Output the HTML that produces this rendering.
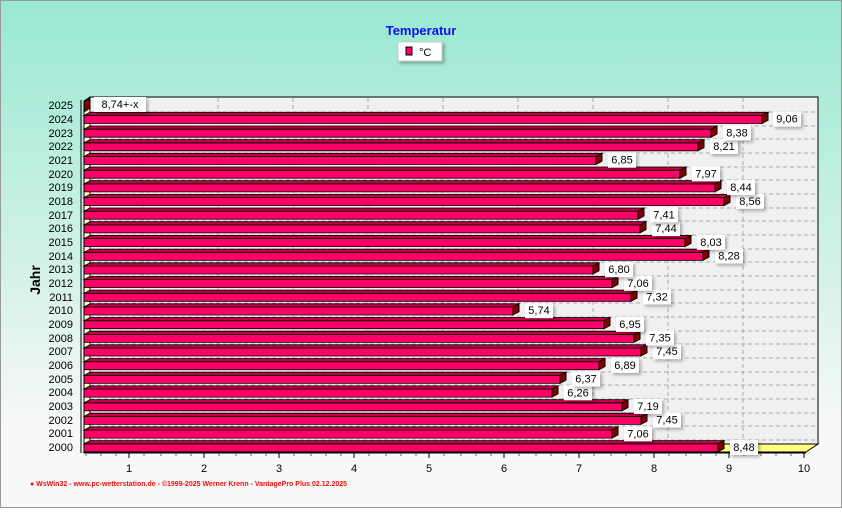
<!DOCTYPE html>
<html><head><meta charset="utf-8"><style>
html,body{margin:0;padding:0}
body{width:842px;height:508px;overflow:hidden}
svg text{font-family:"Liberation Sans",sans-serif;font-size:11px;fill:#000}
.f{fill:#ff0066;stroke:#000;stroke-width:1}
.t{fill:#c00040;stroke:#000;stroke-width:1}
.s{fill:#800000;stroke:#000;stroke-width:1}
.lb{fill:#fff;filter:drop-shadow(2px 2px 1.5px rgba(0,0,0,0.3))}
.sh{display:none}
.yl{text-anchor:end}
.g{stroke:#aaa;stroke-dasharray:4,3;stroke-width:1}
</style></head><body>
<svg width="842" height="508" viewBox="0 0 842 508" xmlns="http://www.w3.org/2000/svg">
<defs><linearGradient id="bg" x1="0" y1="0" x2="0" y2="1">
<stop offset="0" stop-color="#98e8d2"/><stop offset="0.55" stop-color="#d6f2e8"/><stop offset="0.85" stop-color="#f8f8f8"/><stop offset="1" stop-color="#f8f8f8"/></linearGradient></defs>
<rect x="0" y="0" width="842" height="508" fill="url(#bg)"/>
<rect x="0.5" y="0.5" width="841" height="507" fill="none" stroke="#999"/>
<text x="421" y="35" text-anchor="middle" style="font-size:13px;font-weight:bold;fill:#1010ee">Temperatur</text>
<rect x="398" y="42" width="44" height="19" fill="#fff" stroke="#ccc" style="filter:drop-shadow(2px 2px 1.5px rgba(0,0,0,0.3))"/>
<rect x="406" y="47" width="6" height="8" fill="#ff0066" stroke="#000"/>
<text x="419" y="56">°C</text>
<text transform="translate(40,280) rotate(-90)" text-anchor="middle" style="font-size:14px;font-weight:bold">Jahr</text>
<rect x="90" y="97" width="728" height="347" fill="#f0f0f0" stroke="#000"/>
<polygon points="84,101 90,97 90,444 84,452" fill="#ffffe0" stroke="#000"/>
<polygon points="84,452 806,452 818,444 90,444" fill="#ffff80" stroke="#000"/>
<g class="g">
<line x1="143" y1="98" x2="143" y2="444"/><line x1="218" y1="98" x2="218" y2="444"/><line x1="293" y1="98" x2="293" y2="444"/><line x1="368" y1="98" x2="368" y2="444"/><line x1="443" y1="98" x2="443" y2="444"/><line x1="518" y1="98" x2="518" y2="444"/><line x1="593" y1="98" x2="593" y2="444"/><line x1="668" y1="98" x2="668" y2="444"/><line x1="743" y1="98" x2="743" y2="444"/>
<line x1="90" y1="112" x2="818" y2="112"/><line x1="90" y1="126" x2="818" y2="126"/><line x1="90" y1="139" x2="818" y2="139"/><line x1="90" y1="153" x2="818" y2="153"/><line x1="90" y1="167" x2="818" y2="167"/><line x1="90" y1="180" x2="818" y2="180"/><line x1="90" y1="194" x2="818" y2="194"/><line x1="90" y1="208" x2="818" y2="208"/><line x1="90" y1="221" x2="818" y2="221"/><line x1="90" y1="235" x2="818" y2="235"/><line x1="90" y1="249" x2="818" y2="249"/><line x1="90" y1="262" x2="818" y2="262"/><line x1="90" y1="276" x2="818" y2="276"/><line x1="90" y1="290" x2="818" y2="290"/><line x1="90" y1="303" x2="818" y2="303"/><line x1="90" y1="317" x2="818" y2="317"/><line x1="90" y1="331" x2="818" y2="331"/><line x1="90" y1="344" x2="818" y2="344"/><line x1="90" y1="358" x2="818" y2="358"/><line x1="90" y1="372" x2="818" y2="372"/><line x1="90" y1="385" x2="818" y2="385"/><line x1="90" y1="399" x2="818" y2="399"/><line x1="90" y1="413" x2="818" y2="413"/><line x1="90" y1="426" x2="818" y2="426"/><line x1="90" y1="440" x2="818" y2="440"/>
</g>
<g stroke="#000">
<line x1="84" y1="453" x2="806" y2="453"/>
<line x1="129" y1="453" x2="129" y2="458"/><line x1="204" y1="453" x2="204" y2="458"/><line x1="279" y1="453" x2="279" y2="458"/><line x1="354" y1="453" x2="354" y2="458"/><line x1="429" y1="453" x2="429" y2="458"/><line x1="504" y1="453" x2="504" y2="458"/><line x1="579" y1="453" x2="579" y2="458"/><line x1="654" y1="453" x2="654" y2="458"/><line x1="729" y1="453" x2="729" y2="458"/><line x1="804" y1="453" x2="804" y2="458"/>
</g>
<g stroke="#666">
<line x1="86" y1="453" x2="86" y2="456"/><line x1="101" y1="453" x2="101" y2="456"/><line x1="116" y1="453" x2="116" y2="456"/><line x1="144" y1="453" x2="144" y2="456"/><line x1="161" y1="453" x2="161" y2="456"/><line x1="176" y1="453" x2="176" y2="456"/><line x1="191" y1="453" x2="191" y2="456"/><line x1="219" y1="453" x2="219" y2="456"/><line x1="236" y1="453" x2="236" y2="456"/><line x1="251" y1="453" x2="251" y2="456"/><line x1="266" y1="453" x2="266" y2="456"/><line x1="294" y1="453" x2="294" y2="456"/><line x1="311" y1="453" x2="311" y2="456"/><line x1="326" y1="453" x2="326" y2="456"/><line x1="341" y1="453" x2="341" y2="456"/><line x1="369" y1="453" x2="369" y2="456"/><line x1="386" y1="453" x2="386" y2="456"/><line x1="401" y1="453" x2="401" y2="456"/><line x1="416" y1="453" x2="416" y2="456"/><line x1="444" y1="453" x2="444" y2="456"/><line x1="461" y1="453" x2="461" y2="456"/><line x1="476" y1="453" x2="476" y2="456"/><line x1="491" y1="453" x2="491" y2="456"/><line x1="519" y1="453" x2="519" y2="456"/><line x1="536" y1="453" x2="536" y2="456"/><line x1="551" y1="453" x2="551" y2="456"/><line x1="566" y1="453" x2="566" y2="456"/><line x1="594" y1="453" x2="594" y2="456"/><line x1="611" y1="453" x2="611" y2="456"/><line x1="626" y1="453" x2="626" y2="456"/><line x1="641" y1="453" x2="641" y2="456"/><line x1="669" y1="453" x2="669" y2="456"/><line x1="686" y1="453" x2="686" y2="456"/><line x1="701" y1="453" x2="701" y2="456"/><line x1="716" y1="453" x2="716" y2="456"/><line x1="744" y1="453" x2="744" y2="456"/><line x1="761" y1="453" x2="761" y2="456"/><line x1="776" y1="453" x2="776" y2="456"/><line x1="791" y1="453" x2="791" y2="456"/>
</g>
<g text-anchor="middle">
<text x="129" y="472">1</text><text x="204" y="472">2</text><text x="279" y="472">3</text><text x="354" y="472">4</text><text x="429" y="472">5</text><text x="504" y="472">6</text><text x="579" y="472">7</text><text x="654" y="472">8</text><text x="729" y="472">9</text><text x="804" y="472">10</text>
</g>
<line x1="81" y1="100" x2="81" y2="453" stroke="#000"/>
<g class="yl">
<text x="73" y="451">2000</text><text x="73" y="437">2001</text><text x="73" y="424">2002</text><text x="73" y="410">2003</text><text x="73" y="396">2004</text><text x="73" y="383">2005</text><text x="73" y="369">2006</text><text x="73" y="355">2007</text><text x="73" y="342">2008</text><text x="73" y="328">2009</text><text x="73" y="314">2010</text><text x="73" y="301">2011</text><text x="73" y="287">2012</text><text x="73" y="273">2013</text><text x="73" y="260">2014</text><text x="73" y="246">2015</text><text x="73" y="232">2016</text><text x="73" y="219">2017</text><text x="73" y="205">2018</text><text x="73" y="191">2019</text><text x="73" y="178">2020</text><text x="73" y="164">2021</text><text x="73" y="150">2022</text><text x="73" y="137">2023</text><text x="73" y="123">2024</text><text x="73" y="109">2025</text>
</g>
<g>
<g transform="translate(0,105)"><path class="s" d="M84,-3L90,-7V3L84,7Z"/></g>
<g transform="translate(0,119.5) scale(1,0.8)"><path class="f" d="M84,-5H762V5H84Z"/><path class="t" d="M84,-5L90,-9H768L762,-5Z"/><path class="s" d="M762,-5L768,-9V1L762,5Z"/></g>
<g transform="translate(0,133.2) scale(1,0.8)"><path class="f" d="M84,-5H711V5H84Z"/><path class="t" d="M84,-5L90,-9H717L711,-5Z"/><path class="s" d="M711,-5L717,-9V1L711,5Z"/></g>
<g transform="translate(0,146.8) scale(1,0.8)"><path class="f" d="M84,-5H698V5H84Z"/><path class="t" d="M84,-5L90,-9H704L698,-5Z"/><path class="s" d="M698,-5L704,-9V1L698,5Z"/></g>
<g transform="translate(0,160.5) scale(1,0.8)"><path class="f" d="M84,-5H596V5H84Z"/><path class="t" d="M84,-5L90,-9H602L596,-5Z"/><path class="s" d="M596,-5L602,-9V1L596,5Z"/></g>
<g transform="translate(0,174.2) scale(1,0.8)"><path class="f" d="M84,-5H680V5H84Z"/><path class="t" d="M84,-5L90,-9H686L680,-5Z"/><path class="s" d="M680,-5L686,-9V1L680,5Z"/></g>
<g transform="translate(0,187.9) scale(1,0.8)"><path class="f" d="M84,-5H715V5H84Z"/><path class="t" d="M84,-5L90,-9H721L715,-5Z"/><path class="s" d="M715,-5L721,-9V1L715,5Z"/></g>
<g transform="translate(0,201.6) scale(1,0.8)"><path class="f" d="M84,-5H724V5H84Z"/><path class="t" d="M84,-5L90,-9H730L724,-5Z"/><path class="s" d="M724,-5L730,-9V1L724,5Z"/></g>
<g transform="translate(0,215.2) scale(1,0.8)"><path class="f" d="M84,-5H638V5H84Z"/><path class="t" d="M84,-5L90,-9H644L638,-5Z"/><path class="s" d="M638,-5L644,-9V1L638,5Z"/></g>
<g transform="translate(0,228.9) scale(1,0.8)"><path class="f" d="M84,-5H640V5H84Z"/><path class="t" d="M84,-5L90,-9H646L640,-5Z"/><path class="s" d="M640,-5L646,-9V1L640,5Z"/></g>
<g transform="translate(0,242.6) scale(1,0.8)"><path class="f" d="M84,-5H685V5H84Z"/><path class="t" d="M84,-5L90,-9H691L685,-5Z"/><path class="s" d="M685,-5L691,-9V1L685,5Z"/></g>
<g transform="translate(0,256.3) scale(1,0.8)"><path class="f" d="M84,-5H703V5H84Z"/><path class="t" d="M84,-5L90,-9H709L703,-5Z"/><path class="s" d="M703,-5L709,-9V1L703,5Z"/></g>
<g transform="translate(0,270) scale(1,0.8)"><path class="f" d="M84,-5H593V5H84Z"/><path class="t" d="M84,-5L90,-9H599L593,-5Z"/><path class="s" d="M593,-5L599,-9V1L593,5Z"/></g>
<g transform="translate(0,283.6) scale(1,0.8)"><path class="f" d="M84,-5H612V5H84Z"/><path class="t" d="M84,-5L90,-9H618L612,-5Z"/><path class="s" d="M612,-5L618,-9V1L612,5Z"/></g>
<g transform="translate(0,297.3) scale(1,0.8)"><path class="f" d="M84,-5H631V5H84Z"/><path class="t" d="M84,-5L90,-9H637L631,-5Z"/><path class="s" d="M631,-5L637,-9V1L631,5Z"/></g>
<g transform="translate(0,311) scale(1,0.8)"><path class="f" d="M84,-5H513V5H84Z"/><path class="t" d="M84,-5L90,-9H519L513,-5Z"/><path class="s" d="M513,-5L519,-9V1L513,5Z"/></g>
<g transform="translate(0,324.7) scale(1,0.8)"><path class="f" d="M84,-5H604V5H84Z"/><path class="t" d="M84,-5L90,-9H610L604,-5Z"/><path class="s" d="M604,-5L610,-9V1L604,5Z"/></g>
<g transform="translate(0,338.4) scale(1,0.8)"><path class="f" d="M84,-5H634V5H84Z"/><path class="t" d="M84,-5L90,-9H640L634,-5Z"/><path class="s" d="M634,-5L640,-9V1L634,5Z"/></g>
<g transform="translate(0,352) scale(1,0.8)"><path class="f" d="M84,-5H641V5H84Z"/><path class="t" d="M84,-5L90,-9H647L641,-5Z"/><path class="s" d="M641,-5L647,-9V1L641,5Z"/></g>
<g transform="translate(0,365.7) scale(1,0.8)"><path class="f" d="M84,-5H599V5H84Z"/><path class="t" d="M84,-5L90,-9H605L599,-5Z"/><path class="s" d="M599,-5L605,-9V1L599,5Z"/></g>
<g transform="translate(0,379.4) scale(1,0.8)"><path class="f" d="M84,-5H560V5H84Z"/><path class="t" d="M84,-5L90,-9H566L560,-5Z"/><path class="s" d="M560,-5L566,-9V1L560,5Z"/></g>
<g transform="translate(0,393.1) scale(1,0.8)"><path class="f" d="M84,-5H552V5H84Z"/><path class="t" d="M84,-5L90,-9H558L552,-5Z"/><path class="s" d="M552,-5L558,-9V1L552,5Z"/></g>
<g transform="translate(0,406.8) scale(1,0.8)"><path class="f" d="M84,-5H622V5H84Z"/><path class="t" d="M84,-5L90,-9H628L622,-5Z"/><path class="s" d="M622,-5L628,-9V1L622,5Z"/></g>
<g transform="translate(0,420.4) scale(1,0.8)"><path class="f" d="M84,-5H641V5H84Z"/><path class="t" d="M84,-5L90,-9H647L641,-5Z"/><path class="s" d="M641,-5L647,-9V1L641,5Z"/></g>
<g transform="translate(0,434.1) scale(1,0.8)"><path class="f" d="M84,-5H612V5H84Z"/><path class="t" d="M84,-5L90,-9H618L612,-5Z"/><path class="s" d="M612,-5L618,-9V1L612,5Z"/></g>
<g transform="translate(0,447.8) scale(1,0.8)"><path class="f" d="M84,-5H718V5H84Z"/><path class="t" d="M84,-5L90,-9H724L718,-5Z"/><path class="s" d="M718,-5L724,-9V1L718,5Z"/></g>
</g>
<g text-anchor="middle">
<g transform="translate(0,447)"><rect class="lb" x="730" y="-7" width="28" height="15"/><text x="744" y="4">8,48</text></g>
<g transform="translate(0,433.3)"><rect class="lb" x="624" y="-7" width="28" height="15"/><text x="638" y="4">7,06</text></g>
<g transform="translate(0,419.6)"><rect class="lb" x="653" y="-7" width="28" height="15"/><text x="667" y="4">7,45</text></g>
<g transform="translate(0,406)"><rect class="lb" x="634" y="-7" width="28" height="15"/><text x="648" y="4">7,19</text></g>
<g transform="translate(0,392.3)"><rect class="lb" x="564" y="-7" width="28" height="15"/><text x="578" y="4">6,26</text></g>
<g transform="translate(0,378.6)"><rect class="lb" x="572" y="-7" width="28" height="15"/><text x="586" y="4">6,37</text></g>
<g transform="translate(0,364.9)"><rect class="lb" x="611" y="-7" width="28" height="15"/><text x="625" y="4">6,89</text></g>
<g transform="translate(0,351.2)"><rect class="lb" x="653" y="-7" width="28" height="15"/><text x="667" y="4">7,45</text></g>
<g transform="translate(0,337.6)"><rect class="lb" x="646" y="-7" width="28" height="15"/><text x="660" y="4">7,35</text></g>
<g transform="translate(0,323.9)"><rect class="lb" x="616" y="-7" width="28" height="15"/><text x="630" y="4">6,95</text></g>
<g transform="translate(0,310.2)"><rect class="lb" x="525" y="-7" width="28" height="15"/><text x="539" y="4">5,74</text></g>
<g transform="translate(0,296.5)"><rect class="lb" x="643" y="-7" width="28" height="15"/><text x="657" y="4">7,32</text></g>
<g transform="translate(0,282.8)"><rect class="lb" x="624" y="-7" width="28" height="15"/><text x="638" y="4">7,06</text></g>
<g transform="translate(0,269.2)"><rect class="lb" x="605" y="-7" width="28" height="15"/><text x="619" y="4">6,80</text></g>
<g transform="translate(0,255.5)"><rect class="lb" x="715" y="-7" width="28" height="15"/><text x="729" y="4">8,28</text></g>
<g transform="translate(0,241.8)"><rect class="lb" x="697" y="-7" width="28" height="15"/><text x="711" y="4">8,03</text></g>
<g transform="translate(0,228.1)"><rect class="lb" x="652" y="-7" width="28" height="15"/><text x="666" y="4">7,44</text></g>
<g transform="translate(0,214.4)"><rect class="lb" x="650" y="-7" width="28" height="15"/><text x="664" y="4">7,41</text></g>
<g transform="translate(0,200.8)"><rect class="lb" x="736" y="-7" width="28" height="15"/><text x="750" y="4">8,56</text></g>
<g transform="translate(0,187.1)"><rect class="lb" x="727" y="-7" width="28" height="15"/><text x="741" y="4">8,44</text></g>
<g transform="translate(0,173.4)"><rect class="lb" x="692" y="-7" width="28" height="15"/><text x="706" y="4">7,97</text></g>
<g transform="translate(0,159.7)"><rect class="lb" x="608" y="-7" width="28" height="15"/><text x="622" y="4">6,85</text></g>
<g transform="translate(0,146)"><rect class="lb" x="710" y="-7" width="28" height="15"/><text x="724" y="4">8,21</text></g>
<g transform="translate(0,132.4)"><rect class="lb" x="723" y="-7" width="28" height="15"/><text x="737" y="4">8,38</text></g>
<g transform="translate(0,118.7)"><rect class="lb" x="773" y="-7" width="28" height="15"/><text x="787" y="4">9,06</text></g>
<g transform="translate(0,105)"><rect class="lb" x="94" y="-8" width="52" height="15"/><text x="120" y="3">8,74+-x</text></g>
</g>
<text x="30" y="486" style="font-size:7px;font-weight:bold;fill:#ee1111">● WsWin32 - www.pc-wetterstation.de - ©1999-2025 Werner Krenn - VantagePro Plus  02.12.2025</text>
</svg>
</body></html>
